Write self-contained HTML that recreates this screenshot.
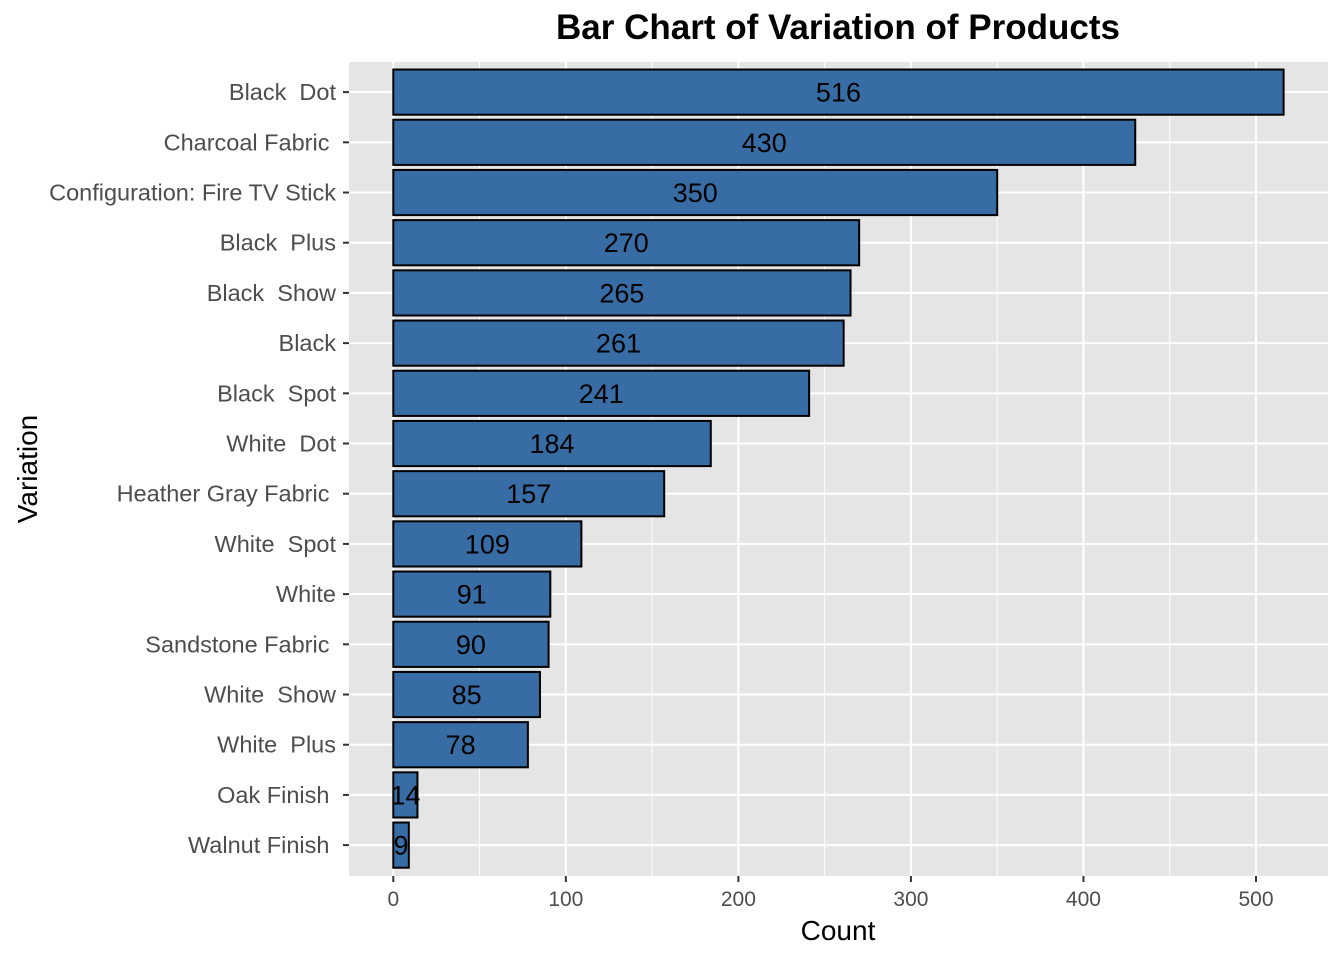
<!DOCTYPE html>
<html><head><meta charset="utf-8"><style>
body{margin:0;background:#fff;}
svg text{font-family:"Liberation Sans",Arial,sans-serif;white-space:pre;}
</style></head><body>
<svg id="chart" width="1344" height="960" xmlns="http://www.w3.org/2000/svg">
<text x="838" y="39" font-size="35" font-weight="bold" text-anchor="middle">Bar Chart of Variation of Products</text>
<rect x="349" y="62" width="979" height="814" fill="#e5e5e5"/>
<g id="grid"></g><g id="bars"></g><g id="axes"></g>
<text x="838" y="940" font-size="28" text-anchor="middle">Count</text>
<text x="0" y="0" font-size="28" text-anchor="middle" transform="translate(37,469) rotate(-90)">Variation</text>
</svg>
<script>
const categories=["Black  Dot","Charcoal Fabric ","Configuration: Fire TV Stick","Black  Plus","Black  Show","Black","Black  Spot","White  Dot","Heather Gray Fabric ","White  Spot","White","Sandstone Fabric ","White  Show","White  Plus","Oak Finish ","Walnut Finish "];
const values=[516,430,350,270,265,261,241,184,157,109,91,90,85,78,14,9];
const xTicks=[0,100,200,300,400,500];
const NS="http://www.w3.org/2000/svg";
const x0=393.3,pxPer=(1256-393.3)/500;
function xs(v){return x0+v*pxPer;}
const top0=62,step=50.2;
function yc(i){return top0+step*(i+0.6);}
function mk(tag,attrs,parent){const e=document.createElementNS(NS,tag);for(const k in attrs)e.setAttribute(k,attrs[k]);parent.appendChild(e);return e;}
const grid=document.getElementById('grid'),bars=document.getElementById('bars'),axes=document.getElementById('axes');
for(let i=0;i<xTicks.length-1;i++){const m=(xTicks[i]+xTicks[i+1])/2;const l=mk('line',{x1:xs(m),x2:xs(m),y1:62,y2:876,stroke:'#fff','stroke-width':1},grid);

}
xTicks.forEach(t=>{const l=mk('line',{x1:xs(t),x2:xs(t),y1:62,y2:876,stroke:'#fff','stroke-width':2},grid);


const tk=mk('line',{x1:xs(t),x2:xs(t),y1:876,y2:882,stroke:'#333','stroke-width':2},axes);


const tx=mk('text',{x:xs(t),y:906,'font-size':21,fill:'#4d4d4d','text-anchor':'middle'},axes);tx.textContent=t;

});
categories.forEach((c,i)=>{const y=yc(i);
const g=mk('line',{x1:349,x2:1328,y1:y,y2:y,stroke:'#fff','stroke-width':2},grid);


const tk=mk('line',{x1:343,x2:349,y1:y,y2:y,stroke:'#333','stroke-width':2},axes);


const tl=mk('text',{x:336,y:y+8,'font-size':23.5,fill:'#4d4d4d','text-anchor':'end'},axes);tl.textContent=c;


const h=step*0.9;
const r=mk('rect',{x:xs(0),y:y-h/2,width:xs(values[i])-xs(0),height:h,fill:'#386ca5',stroke:'#000','stroke-width':2},bars);


const lb=mk('text',{x:xs(values[i]/2),y:y+9.5,'font-size':27,fill:'#000','text-anchor':'middle'},bars);lb.textContent=values[i];

});
</script>
</body></html>
